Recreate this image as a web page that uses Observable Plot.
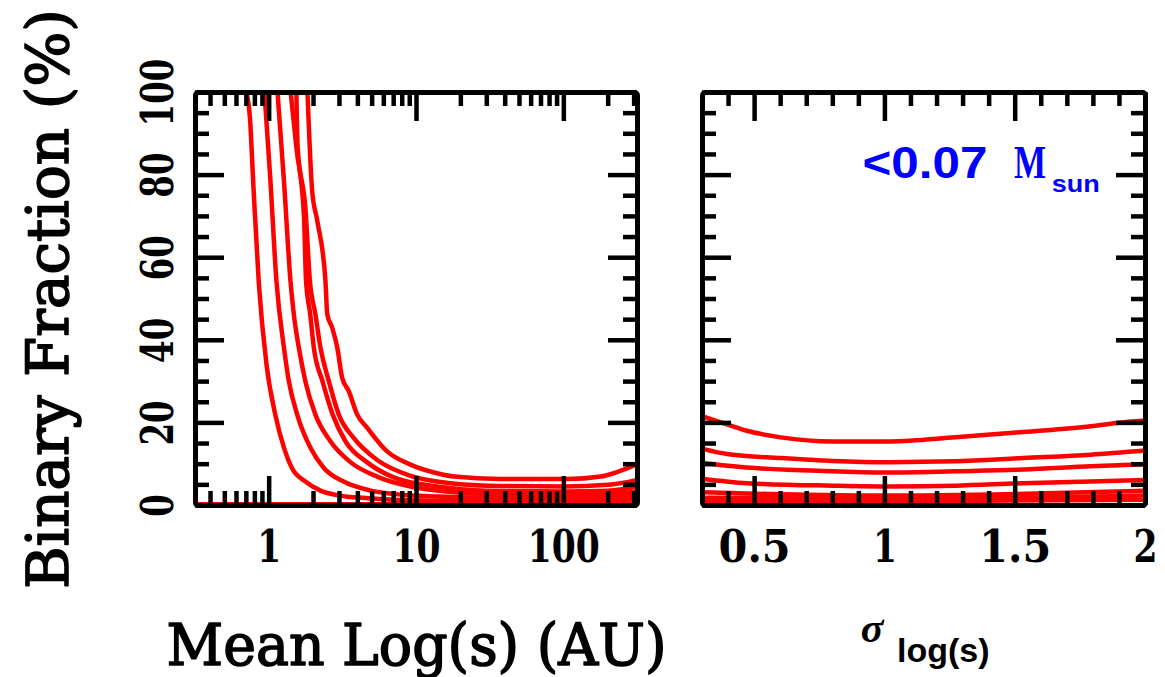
<!DOCTYPE html>
<html><head><meta charset="utf-8">
<script src="https://cdn.jsdelivr.net/npm/d3@7"></script>
<script src="https://cdn.jsdelivr.net/npm/@observablehq/plot@0.6"></script>
<style>
body{margin:0;background:#fff;}
#wrap{position:relative;width:1165px;height:677px;overflow:hidden;background:#fff;}
#wrap svg{position:absolute;top:0;}
</style></head><body><div id="wrap"></div>
<script>
// ---------- Left panel: binary fraction vs mean separation (AU) ----------
const meanA_x = [0.70, 0.74, 0.78, 0.85, 0.96, 1.10, 1.26, 1.43, 1.76, 2.23, 3.0, 4.5, 7, 14, 30, 100, 200, 316];
const meanA_y = [100, 94, 78, 54, 34, 22, 14, 9, 5.8, 3.6, 2.4, 1.8, 1.4, 1.2, 1.1, 1.1, 1.2, 1.5];
const meanB_x = [0.93, 1.02, 1.12, 1.26, 1.36, 1.55, 1.91, 2.35, 3.2, 4.9, 8, 13.8, 30, 100, 200, 316];
const meanB_y = [100, 78.6, 54.4, 38.2, 30.1, 22, 13.9, 9.1, 5.8, 3.6, 2.6, 2.2, 1.9, 1.8, 2.0, 2.4];
const meanC_x = [1.14, 1.26, 1.395, 1.47, 1.59, 1.76, 2.06, 2.61, 3.56, 5.4, 9.1, 13.8, 30, 100, 200, 316];
const meanC_y = [100, 78.6, 54.4, 46.3, 38.2, 30.1, 22, 15.5, 10.5, 7.0, 4.6, 3.6, 2.8, 2.6, 2.8, 3.4];
const meanD_x = [1.40, 1.53, 1.72, 1.78, 1.90, 2.01, 2.30, 2.70, 3.3, 4.6, 7, 13.8, 30, 100, 200, 316];
const meanD_y = [100, 86.7, 70.6, 54.4, 46.3, 38.2, 30.1, 22, 15.5, 10.5, 6.8, 4.6, 3.6, 3.4, 3.6, 4.6];
const meanE_x = [1.53, 1.56, 1.76, 1.89, 2.06, 2.23, 2.54, 2.97, 3.76, 5.41, 9.1, 13.8, 30, 100, 200, 316];
const meanE_y = [100, 86.7, 72.2, 54.4, 46.3, 38.2, 30.1, 22, 16.3, 11, 7.2, 5.8, 4.8, 4.6, 5.0, 6.2];
const meanF_x = [1.82, 1.96, 2.12, 2.41, 2.48, 2.68, 2.90, 3.13, 3.47, 3.96, 4.63, 6.32, 9.1, 13.8, 18, 37, 106, 178, 230, 316];
const meanF_y = [100, 76, 69, 54.4, 46.3, 43, 38.2, 30.9, 27.7, 22, 18.8, 13.1, 9.9, 7.8, 7.0, 6.4, 6.4, 7.0, 8.1, 10];
const meanG_x = [0.316, 1, 10, 100, 316];
const meanG_y = [0.3, 0.3, 0.3, 0.3, 0.3];

// ---------- Right panel: binary fraction vs sigma log(s) ----------
const sigR1_x = [0.3, 0.4, 0.47, 0.6, 0.8, 1.02, 1.27, 1.53, 1.79, 1.89, 2.0];
const sigR1_y = [21.6, 19.5, 18.1, 16.5, 15.5, 15.5, 16.5, 17.8, 19.2, 20.0, 20.6];
const sigR2_x = [0.3, 0.4, 0.6, 0.8, 1.02, 1.27, 1.53, 1.79, 2.0];
const sigR2_y = [13.7, 12.4, 11.5, 10.8, 10.5, 10.7, 11.5, 12.3, 13.3];
const sigR3_x = [0.3, 0.47, 0.8, 1.02, 1.27, 1.53, 1.79, 2.0];
const sigR3_y = [10.3, 9.2, 8.3, 8.0, 8.3, 8.7, 9.5, 10.0];
const sigR4_x = [0.3, 0.47, 0.8, 1.02, 1.27, 1.53, 1.79, 2.0];
const sigR4_y = [6.5, 5.4, 4.8, 4.6, 4.8, 5.4, 5.8, 6.2];
const sigR5_x = [0.3, 0.6, 1.0, 1.5, 2.0];
const sigR5_y = [3.2, 2.7, 2.4, 2.8, 3.6];
const sigR6_x = [0.3, 1.0, 2.0];
const sigR6_y = [1.9, 1.6, 2.4];
const sigR7_x = [0.3, 1.0, 2.0];
const sigR7_y = [1.1, 1.0, 1.4];

// ---------- ticks & labels ----------
const leftXMajor = [1, 10, 100];
const leftXMinor = [0.4, 0.5, 0.6, 0.7, 0.8, 0.9, 2, 3, 4, 5, 6, 7, 8, 9, 20, 30, 40, 50, 60, 70, 80, 90, 200, 300];
const rightXMajor = [0.5, 1, 1.5, 2];
const rightXMinor = [0.4, 0.6, 0.7, 0.8, 0.9, 1.1, 1.2, 1.3, 1.4, 1.6, 1.7, 1.8, 1.9];
const yMajor = [0, 20, 40, 60, 80, 100];
const yMinor = [5, 10, 15, 25, 30, 35, 45, 50, 55, 65, 70, 75, 85, 90, 95];
const yLabel = "Binary Fraction (%)";
const xLabelLeft = "Mean Log(s) (AU)";
const xLabelRightMain = "σ";
const xLabelRightSub = "log(s)";
const annotMain = "<0.07";
const annotM = "M";
const annotSub = "sun";

function rows(id, xs, ys) { return xs.map((x, i) => ({id, x, y: ys[i]})); }
const leftData = [
  ...rows("A", meanA_x, meanA_y), ...rows("B", meanB_x, meanB_y), ...rows("C", meanC_x, meanC_y),
  ...rows("D", meanD_x, meanD_y), ...rows("E", meanE_x, meanE_y), ...rows("F", meanF_x, meanF_y),
  ...rows("G", meanG_x, meanG_y)
];
const rightData = [
  ...rows("1", sigR1_x, sigR1_y), ...rows("2", sigR2_x, sigR2_y), ...rows("3", sigR3_x, sigR3_y),
  ...rows("4", sigR4_x, sigR4_y), ...rows("5", sigR5_x, sigR5_y), ...rows("6", sigR6_x, sigR6_y),
  ...rows("7", sigR7_x, sigR7_y)
];

const H = 677, MT = 92, MB = 172;
const plotH = H - MT - MB;
const SERIF = "'DejaVu Serif', 'Liberation Serif', serif";

function frameTicks(xMajor, xMinor, plotW) {
  const s = {stroke: "black", strokeWidth: 4.5};
  return [
    Plot.tickX(xMinor, {x: d => d, insetTop: plotH - 14, ...s}),
    Plot.tickX(xMajor, {x: d => d, insetTop: plotH - 29, ...s}),
    Plot.tickX(xMinor, {x: d => d, insetBottom: plotH - 14, ...s}),
    Plot.tickX(xMajor, {x: d => d, insetBottom: plotH - 29, ...s}),
    Plot.tickY(yMinor, {y: d => d, insetRight: plotW - 14, ...s}),
    Plot.tickY(yMajor, {y: d => d, insetRight: plotW - 29, ...s}),
    Plot.tickY(yMinor, {y: d => d, insetLeft: plotW - 14, ...s}),
    Plot.tickY(yMajor, {y: d => d, insetLeft: plotW - 29, ...s})
  ];
}
const tickFont = {fontSize: 44, fontFamily: SERIF, fontWeight: "bold"};
const titleFont = {fontSize: 58, fontFamily: SERIF, fontWeight: "normal", fill: "black", stroke: "black", strokeWidth: 1.6, paintOrder: "stroke"};

const LW = 660, LML = 195, LMR = 23;
const left = Plot.plot({
  width: LW, height: H, marginTop: MT, marginBottom: MB, marginLeft: LML, marginRight: LMR,
  style: {background: "white", overflow: "visible"},
  x: {type: "log", domain: [Math.pow(10, -0.5), Math.pow(10, 2.5)]},
  y: {domain: [0, 100]},
  marks: [
    Plot.line(leftData, {x: "x", y: "y", z: "id", stroke: "#ff0000", strokeWidth: 4.5, curve: "monotone-x", clip: true}),
    ...frameTicks(leftXMajor, leftXMinor, LW - LML - LMR),
    Plot.frame({stroke: "black", strokeWidth: 5, rx: 3}),
    Plot.axisX(leftXMajor, {tickSize: 0, tickPadding: 25, ...tickFont, label: null, tickFormat: d => String(d)}),
    Plot.axisY(yMajor, {tickSize: 0, tickRotate: -90, tickPadding: 23, ...tickFont, label: null, tickFormat: d => String(d)}),
    Plot.text([yLabel], {text: d => d, frameAnchor: "left", rotate: -90, dx: -128, lineAnchor: "bottom", textAnchor: "middle", ...titleFont}),
    Plot.text([xLabelLeft], {text: d => d, frameAnchor: "bottom", dy: 159, lineAnchor: "bottom", textAnchor: "middle", ...titleFont})
  ]
});

const RW = 505, RML = 42, RMR = 20;
const right = Plot.plot({
  width: RW, height: H, marginTop: MT, marginBottom: MB, marginLeft: RML, marginRight: RMR,
  style: {background: "transparent", overflow: "visible"},
  x: {domain: [0.3, 2]},
  y: {domain: [0, 100], axis: null},
  marks: [
    Plot.line(rightData, {x: "x", y: "y", z: "id", stroke: "#ff0000", strokeWidth: 4.5, curve: "monotone-x", clip: true}),
    ...frameTicks(rightXMajor, rightXMinor, RW - RML - RMR),
    Plot.frame({stroke: "black", strokeWidth: 5, rx: 3}),
    Plot.axisX(rightXMajor, {tickSize: 0, tickPadding: 25, ...tickFont, label: null, tickFormat: d => String(d)}),
    Plot.text([xLabelRightMain], {text: d => d, frameAnchor: "bottom", dx: -52, dy: 136, lineAnchor: "bottom", textAnchor: "middle", fontSize: 42, fontFamily: "'Liberation Serif', serif", fontWeight: "bold", fontStyle: "italic"}),
    Plot.text([xLabelRightSub], {text: d => d, frameAnchor: "bottom", dx: -27, dy: 156, lineAnchor: "bottom", textAnchor: "start", fontSize: 34, fontFamily: "'Liberation Sans', sans-serif", fontWeight: "bold"}),
    Plot.text([annotMain], {x: () => 0.914, y: () => 79.4, text: d => d, lineAnchor: "bottom", textAnchor: "start", fontSize: 45, fontFamily: "'Liberation Sans', sans-serif", fontWeight: "bold", fill: "#0000ff"}),
    Plot.text([annotM], {x: () => 1.495, y: () => 79.4, text: d => d, lineAnchor: "bottom", textAnchor: "start", fontSize: 46, fontFamily: "'Liberation Serif', serif", fontWeight: "bold", fill: "#0000ff"}),
    Plot.text([annotSub], {x: () => 1.64, y: () => 76.0, text: d => d, lineAnchor: "bottom", textAnchor: "start", fontSize: 24, fontFamily: "'Liberation Sans', sans-serif", fontWeight: "bold", fill: "#0000ff"})
  ]
});

const wrap = document.getElementById("wrap");
left.style.left = "0px";
right.style.left = LW + "px";
wrap.appendChild(left);
wrap.appendChild(right);

function fitLabel(svg, label, lenFn) {
  svg.querySelectorAll(`g[aria-label="${label}"] text`).forEach(t => {
    const n = t.textContent.length;
    t.setAttribute("textLength", lenFn(n));
    t.setAttribute("lengthAdjust", "spacingAndGlyphs");
  });
}
function fitText(svg, str, len) {
  svg.querySelectorAll("text").forEach(t => {
    if (t.textContent === str) {
      t.setAttribute("textLength", len);
      t.setAttribute("lengthAdjust", "spacingAndGlyphs");
    }
  });
}
fitLabel(left, "x-axis tick label", n => n * 24);
fitLabel(right, "x-axis tick label", n => n * 24);
fitLabel(left, "y-axis tick label", n => n * 22.6);
fitText(left, yLabel, 580);
fitText(left, xLabelLeft, 500);
fitText(right, annotMain, 125);
fitText(right, annotM, 32);
fitText(right, annotSub, 48);
</script>
</body></html>
